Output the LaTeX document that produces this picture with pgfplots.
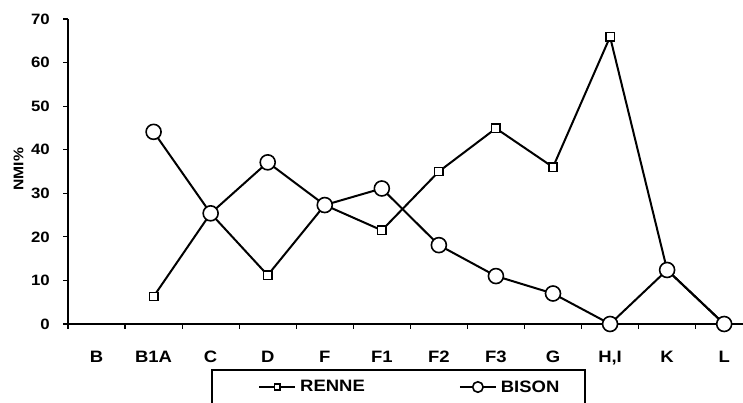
\documentclass[border=0pt]{standalone}
\usepackage{pgfplots}
\pgfplotsset{compat=1.18}
\usepackage{fontspec}
\setmainfont{Liberation Sans}[FakeStretch=1.12]
\begin{document}
\begin{tikzpicture}
\useasboundingbox (0,0) rectangle (743bp,403bp);
\clip (0,0) rectangle (743bp,403bp);
\begin{axis}[
  at={(68bp,79bp)}, anchor=south west,
  scale only axis, width=675bp, height=305bp,
  xmin=-0.5, xmax=11.33, ymin=0, ymax=70,
  clip=false,
  axis lines*=left,
  axis line style={line width=1.5bp, black},
  xtick={0,...,11},
  xticklabels={B,B1A,C,D,F,F1,F2,F3,G,{H,I},K,L},
  minor xtick={-0.5,0.5,...,10.5},
  ytick={0,10,...,70},
  tick align=outside,
  major tick length=5bp, minor tick length=5bp,
  every tick/.style={black, line width=1.2bp},
  major x tick style={draw=none},
  /pgf/number format/assume math mode=true,
  xticklabel style={font=\fontsize{16.5bp}{19bp}\selectfont\bfseries, anchor=north, inner sep=0pt, yshift=-21.5bp},
  yticklabel style={font=\fontsize{15bp}{17bp}\selectfont\bfseries, anchor=east, inner sep=0pt, xshift=-13bp},
  ylabel={NMI\%},
  ylabel style={font=\fontsize{14bp}{17bp}\selectfont\bfseries, at={(axis description cs:-0.0733,0.508)}, anchor=center, rotate=0},
  legend columns=2,
  legend image code/.code={\draw[mark repeat=2, mark phase=2, #1, every mark/.append style={scale=0.7}] plot coordinates {(0bp,0bp) (18bp,0bp) (36bp,0bp)};},
  legend style={draw=none, fill=none, at={(axis description cs:0.2815,-0.2066)}, anchor=west, inner sep=0pt,
    font=\fontsize{16.5bp}{19bp}\selectfont\bfseries, nodes={inner sep=0pt},
    /tikz/every odd column/.append style={column sep=4bp},
    /tikz/every even column/.append style={column sep=94bp}},
]
\addplot[black, line width=2bp, mark=square*, mark size=4.2bp, mark options={fill=white, line width=1.5bp}]
  coordinates {(1,6.3) (2,25.4) (3,11.2) (4,27.3) (5,21.5) (6,35.0) (7,44.9) (8,36.0) (9,65.9) (10,12.4) (11,0)};
\addlegendentry{RENNE}
\addplot[black, line width=2bp, mark=*, mark size=7.5bp, mark options={fill=white, line width=1.6bp}]
  coordinates {(1,44.1) (2,25.4) (3,37.1) (4,27.3) (5,31.1) (6,18.1) (7,11.0) (8,7.0) (9,0) (10,12.4) (11,0)};
\addlegendentry{BISON}
\end{axis}
\draw[line width=1.2bp] (212bp,-20bp) rectangle (585bp,33bp);
\end{tikzpicture}
\end{document}
